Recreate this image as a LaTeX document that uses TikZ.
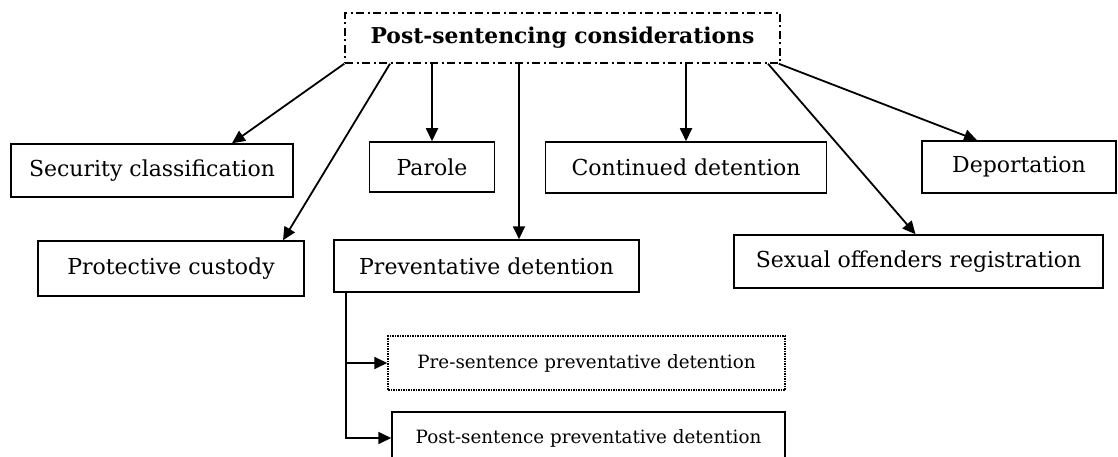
\documentclass[tikz,border=0pt]{standalone}
\usepackage{fontspec}
\setmainfont{DejaVu Serif}
\usetikzlibrary{arrows.meta,calc}
\begin{document}
\begin{tikzpicture}[x=1pt,y=-1pt,
  box/.style={draw,line width=1.5pt,inner sep=0pt,anchor=center,font=\fontsize{22}{26}\selectfont},
  smallbox/.style={box,font=\fontsize{18.3}{22}\selectfont},
  conn/.style={line width=1.8pt,-{Triangle[length=13pt,width=12pt]}}]
\useasboundingbox (0,0) rectangle (1118,457);
\clip (0,0) rectangle (1118,457);
\node[box,font=\fontsize{21.8}{26}\selectfont\bfseries,dash pattern=on 8pt off 3.5pt on 2pt off 3.5pt,minimum width=435pt,minimum height=50pt] (top) at (562.5,38) {Post-sentencing considerations};
\node[box,minimum width=282pt,minimum height=53pt] (sec) at (152,170.5) {Security classification};
\node[box,minimum width=125pt,minimum height=50pt] (par) at (432,167) {Parole};
\node[box,minimum width=281pt,minimum height=51pt] (cont) at (686,167.5) {Continued detention};
\node[box,minimum width=194pt,minimum height=52pt] (dep) at (1019,167) {Deportation};
\node[box,minimum width=266pt,minimum height=55pt] (prot) at (171,268.5) {Protective custody};
\node[box,minimum width=305pt,minimum height=52pt] (prev) at (486.5,266) {Preventative detention};
\node[box,minimum width=369pt,minimum height=53pt] (sex) at (918.5,261.5) {Sexual offenders registration};
\node[smallbox,densely dotted,minimum width=397pt,minimum height=54pt] (pre) at (586.5,363) {Pre-sentence preventative detention};
\node[smallbox,minimum width=393pt,minimum height=52pt] (post) at (588.5,438) {Post-sentence preventative detention};
\draw[conn] (top.south west) -- ([xshift=80pt]sec.north);
\draw[conn] ([xshift=-172.5pt]top.south) -- ([xshift=112pt]prot.north);
\draw[conn] (par.north |- top.south) -- (par.north);
\draw[conn] ([xshift=32.5pt]prev.north |- top.south) -- ([xshift=32.5pt]prev.north);
\draw[conn] (cont.north |- top.south) -- (cont.north);
\draw[conn] ([xshift=205.5pt]top.south) -- ([xshift=-3pt]sex.north);
\draw[conn] ([xshift=-2pt]top.south east) -- ([xshift=-42pt]dep.north);
\coordinate (pb) at ([xshift=13pt]prev.south west);
\draw[conn] (pb) |- (pre.west);
\draw[conn] (pb) |- (post.west);
\end{tikzpicture}
\end{document}
